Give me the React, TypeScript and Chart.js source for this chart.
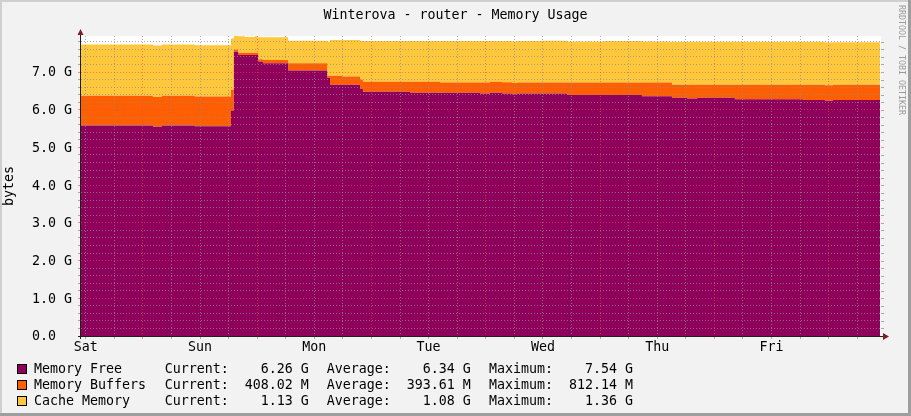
import React, { useEffect, useRef } from 'react';
import { Chart, registerables } from 'chart.js';

Chart.register(...registerables);

// ---------- texts ----------
const TITLE = 'Winterova - router - Memory Usage';
const Y_TITLE = 'bytes';
const WATERMARK = 'RRDTOOL / TOBI OETIKER';

// ---------- axes ----------
const X_MIN = 0; // hours from graph start
const X_MAX = 168;
const Y_MIN = 0;
const Y_MAX = 7.955; // G
const DAY_LABELS = ['Sat', 'Sun', 'Mon', 'Tue', 'Wed', 'Thu', 'Fri'];
const DAY_LABEL_HOURS = [1, 25, 49, 73, 97, 121, 145];
const MAJOR_X_HOURS = [13, 37, 61, 85, 109, 133, 157];
const MINOR_X_STEP = 6;
const Y_MAJOR_VALUES = [0, 1, 2, 3, 4, 5, 6, 7];
const Y_TICK_LABELS = ['0.0  ', '1.0 G', '2.0 G', '3.0 G', '4.0 G', '5.0 G', '6.0 G', '7.0 G'];
const Y_MINOR_STEP = 0.2;

// ---------- data (hours from start, values in G) ----------
const TIMES = [0, 15.1, 17.0, 23.9, 31.5, 32.1, 33.0, 34.4, 36.5, 37.2, 38.2, 43.5, 51.7, 52.3, 54.8, 58.6, 59.2, 69.1, 75.4, 83.8, 85.9, 88.4, 90.5, 91.6, 96.4, 102.1, 110.0, 117.8, 123.3, 124.1, 127.3, 129.4, 137.3, 151.6, 156.2, 157.9, 167.8];
const MEMORY_FREE = [5.58, 5.55, 5.58, 5.56, 5.98, 7.54, 7.45, 7.45, 7.45, 7.28, 7.23, 7.04, 6.85, 6.66, 6.66, 6.55, 6.48, 6.45, 6.45, 6.43, 6.45, 6.43, 6.41, 6.43, 6.43, 6.39, 6.39, 6.36, 6.36, 6.32, 6.30, 6.32, 6.28, 6.26, 6.24, 6.26, 6.26];
const MEMORY_BUFFERS = [0.79, 0.79, 0.79, 0.79, 0.55, 0.06, 0.06, 0.06, 0.06, 0.06, 0.09, 0.19, 0.05, 0.24, 0.22, 0.25, 0.26, 0.29, 0.27, 0.29, 0.29, 0.30, 0.30, 0.29, 0.29, 0.33, 0.33, 0.36, 0.36, 0.34, 0.36, 0.34, 0.38, 0.40, 0.41, 0.40, 0.40];
const CACHE_MEMORY = [1.36, 1.36, 1.36, 1.36, 1.36, 0.36, 0.44, 0.42, 0.44, 0.58, 0.60, 0.60, 0.90, 0.95, 0.97, 1.02, 1.08, 1.08, 1.10, 1.10, 1.08, 1.09, 1.10, 1.10, 1.11, 1.09, 1.10, 1.09, 1.08, 1.14, 1.14, 1.14, 1.14, 1.14, 1.13, 1.13, 1.13];

// ---------- legend ----------
const SERIES_NAMES = ['Memory Free', 'Memory Buffers', 'Cache Memory'];
const SERIES_COLORS = ['#8F005C', '#FF5F00', '#FFC73B'];
const CURRENT_VALUES = [6.26, 408.02, 1.13];
const AVERAGE_VALUES = [6.34, 393.61, 1.08];
const MAXIMUM_VALUES = [7.54, 812.14, 1.36];
const VALUE_UNITS = ['G', 'M', 'G'];

// ---------- style ----------
const FONT = "'DejaVu Sans Mono', monospace";
const FONT_SIZE = 13.3;
const BACK = '#F2F2F2';
const CANVAS_BG = '#FFFFFF';
const SHADE_A = '#CFCFCF';
const SHADE_B = '#9E9E9E';
const GRID = 'rgba(143,143,143,0.75)';
const MGRID = 'rgba(222,79,79,0.6)';
const AXIS = '#1F1F1F';
const ARROW = '#801F1F';

const isInt = (v: number) => Math.abs(v - Math.round(v)) < 1e-6;

const points = (vals: number[]) => TIMES.map((t, i) => ({ x: t, y: vals[i] }));

const fmt = (label: string, v: number, unit: string) => label + v.toFixed(2).padStart(8, ' ') + ' ' + unit;

const rrdPlugin = {
  id: 'rrdDecor',
  beforeDraw(chart: any) {
    const { ctx, chartArea: a, width, height } = chart;
    ctx.save();
    ctx.fillStyle = BACK;
    ctx.fillRect(0, 0, width, height);
    ctx.fillStyle = CANVAS_BG;
    ctx.fillRect(a.left, a.top, a.right - a.left, a.bottom - a.top);
    ctx.restore();
  },
  afterDraw(chart: any) {
    const { ctx, chartArea: a, width, height } = chart;
    const ys = chart.scales.y;
    ctx.save();

    // right-hand tick marks of the horizontal grid
    ctx.lineWidth = 1;
    for (const t of ys.ticks) {
      const py = Math.round(ys.getPixelForValue(t.value)) + 0.5;
      ctx.strokeStyle = isInt(t.value) ? MGRID : GRID;
      ctx.beginPath();
      ctx.moveTo(a.right, py);
      ctx.lineTo(a.right + 3, py);
      ctx.stroke();
    }

    // axes
    ctx.strokeStyle = AXIS;
    ctx.beginPath();
    ctx.moveTo(a.left - 3, a.bottom + 0.5);
    ctx.lineTo(a.right + 3, a.bottom + 0.5);
    ctx.moveTo(a.left - 0.5, a.bottom + 3);
    ctx.lineTo(a.left - 0.5, a.top - 2);
    ctx.stroke();
    ctx.fillStyle = ARROW;
    ctx.beginPath();
    ctx.moveTo(a.right + 2, a.bottom - 3);
    ctx.lineTo(a.right + 8, a.bottom + 0.5);
    ctx.lineTo(a.right + 2, a.bottom + 4);
    ctx.closePath();
    ctx.fill();
    ctx.beginPath();
    ctx.moveTo(a.left - 3.5, a.top - 1);
    ctx.lineTo(a.left - 0.5, a.top - 7);
    ctx.lineTo(a.left + 2.5, a.top - 1);
    ctx.closePath();
    ctx.fill();

    // title
    ctx.fillStyle = '#000';
    ctx.font = `${FONT_SIZE}px ${FONT}`;
    ctx.textAlign = 'center';
    ctx.textBaseline = 'alphabetic';
    ctx.fillText(TITLE, width / 2, 19);

    // legend
    ctx.textAlign = 'left';
    for (let i = 0; i < SERIES_NAMES.length; i++) {
      const b = Math.round(373.3 + i * 15.7);
      ctx.fillStyle = SERIES_COLORS[i];
      ctx.fillRect(17, b - 9, 10, 10);
      ctx.strokeStyle = '#000';
      ctx.strokeRect(17.5, b - 8.5, 9, 9);
      ctx.fillStyle = '#000';
      ctx.fillText(SERIES_NAMES[i], 34, b);
      ctx.fillText(fmt('Current:', CURRENT_VALUES[i], VALUE_UNITS[i]), 164.7, b);
      ctx.fillText(fmt('Average:', AVERAGE_VALUES[i], VALUE_UNITS[i]), 326.7, b);
      ctx.fillText(fmt('Maximum:', MAXIMUM_VALUES[i], VALUE_UNITS[i]), 489, b);
    }

    // watermark
    ctx.save();
    ctx.translate(899, 5);
    ctx.rotate(Math.PI / 2);
    ctx.fillStyle = '#9A9A9A';
    ctx.font = `8.3px ${FONT}`;
    ctx.textAlign = 'left';
    ctx.textBaseline = 'alphabetic';
    ctx.fillText(WATERMARK, 0, 0);
    ctx.restore();

    // 3d border
    ctx.fillStyle = SHADE_A;
    ctx.fillRect(0, 0, width, 2);
    ctx.fillRect(0, 0, 2, height);
    ctx.fillStyle = SHADE_B;
    ctx.fillRect(0, height - 3, width, 3);
    ctx.fillRect(width - 3, 0, 3, height);
    ctx.restore();
  },
};

export default function App() {
  const ref = useRef<HTMLCanvasElement>(null);
  useEffect(() => {
    const canvas = ref.current;
    if (!canvas) return;
    const tickFont = { family: FONT, size: FONT_SIZE, lineHeight: 1.2 };
    const chart = new Chart(canvas, {
      type: 'line',
      data: {
        datasets: [
          { label: SERIES_NAMES[0], data: points(MEMORY_FREE), backgroundColor: SERIES_COLORS[0], borderWidth: 0, fill: 'origin', stepped: 'before', pointRadius: 0 },
          { label: SERIES_NAMES[1], data: points(MEMORY_BUFFERS), backgroundColor: SERIES_COLORS[1], borderWidth: 0, fill: '-1', stepped: 'before', pointRadius: 0 },
          { label: SERIES_NAMES[2], data: points(CACHE_MEMORY), backgroundColor: SERIES_COLORS[2], borderWidth: 0, fill: '-1', stepped: 'before', pointRadius: 0 },
        ],
      },
      options: {
        animation: false,
        responsive: false,
        devicePixelRatio: 1,
        events: [],
        layout: { padding: { left: 0, top: 36, right: 30, bottom: 0 } },
        plugins: { legend: { display: false }, tooltip: { enabled: false }, title: { display: false } },
        scales: {
          x: {
            type: 'linear',
            min: X_MIN,
            max: X_MAX,
            afterBuildTicks: (s: any) => {
              const t = [];
              for (let h = DAY_LABEL_HOURS[0]; h < X_MAX; h += MINOR_X_STEP) t.push({ value: h });
              s.ticks = t;
            },
            afterFit: (s: any) => { s.height = 80; },
            grid: {
              z: 1,
              color: (c: any) => (c.tick && MAJOR_X_HOURS.includes(c.tick.value) ? MGRID : GRID),
              lineWidth: 1,
              tickLength: 3,
            },
            border: { display: false, dash: [1, 2] },
            ticks: {
              autoSkip: false,
              maxRotation: 0,
              padding: 1,
              color: '#000',
              font: tickFont,
              callback: (v: any) => {
                const i = DAY_LABEL_HOURS.indexOf(Number(v));
                return i >= 0 ? DAY_LABELS[i] : '';
              },
            },
          },
          y: {
            type: 'linear',
            stacked: true,
            min: Y_MIN,
            max: Y_MAX,
            afterBuildTicks: (s: any) => {
              const t = [];
              for (let k = 0; k * Y_MINOR_STEP < Y_MAX; k++) t.push({ value: Math.round(k * Y_MINOR_STEP * 10) / 10 });
              s.ticks = t;
            },
            afterFit: (s: any) => { s.width = 81; },
            grid: {
              z: 1,
              color: (c: any) => (c.tick && isInt(c.tick.value) ? MGRID : GRID),
              lineWidth: 1,
              tickLength: 3,
            },
            border: { display: false, dash: [1, 2] },
            ticks: {
              autoSkip: false,
              padding: 6,
              labelOffset: 1,
              color: '#000',
              font: tickFont,
              callback: (v: any) => {
                const n = Number(v);
                if (!isInt(n)) return '';
                const i = Y_MAJOR_VALUES.indexOf(Math.round(n));
                return i >= 0 ? Y_TICK_LABELS[i] : '';
              },
            },
            title: {
              display: true,
              text: Y_TITLE,
              color: '#000',
              font: tickFont,
              padding: { top: 2, bottom: 0 },
            },
          },
        },
      },
      plugins: [rrdPlugin],
    } as any);
    return () => chart.destroy();
  }, []);
  return (
    <div style={{ position: 'fixed', left: 0, top: 0, width: 911, height: 416, background: BACK }}>
      <canvas ref={ref} width={911} height={416} style={{ display: 'block', width: 911, height: 416 }} />
    </div>
  );
}
